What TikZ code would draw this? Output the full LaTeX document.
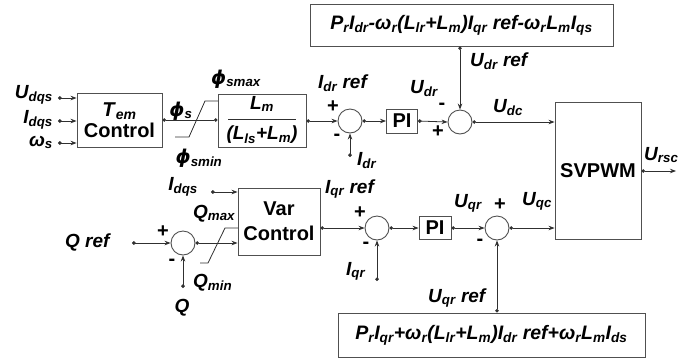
\documentclass[tikz,border=0pt]{standalone}
\usepackage{fontspec}
\setmainfont{Liberation Sans}
\newfontfamily\dvs{DejaVu Sans}
\usetikzlibrary{arrows.meta}
\definecolor{linec}{HTML}{303030}
\definecolor{boxc}{HTML}{505050}
\newcommand\sbs[1]{\textsubscript{#1}}
\newcommand\phig{{\dvs\bfseries\itshape ϕ}}
\newcommand\lblfont{\fontsize{19}{22}\selectfont\bfseries\itshape}
\newcommand\eqfont{\fontsize{19.5}{22}\selectfont\bfseries\itshape}
\newcommand\boxfont{\fontsize{20}{21}\selectfont\bfseries}
\newcommand\sigfont{\fontsize{20}{22}\selectfont\bfseries}
\tikzset{
  box/.style={draw=boxc, line width=0.9pt, fill=white, rectangle, inner sep=0pt},
  sumc/.style={draw=boxc, line width=0.9pt, circle, minimum size=24pt, inner sep=0pt},
  lbl/.style={font=\lblfont, inner sep=0pt},
  sig/.style={font=\sigfont, inner sep=0pt},
  con/.style={draw=linec, line width=0.8pt, {Circle[length=3.6pt]}-{Stealth[length=6pt,width=4.5pt]}},
  dd/.style={draw=linec, line width=0.8pt, {Circle[length=3.6pt]}-{Circle[length=3.6pt]}},
  satl/.style={draw=linec, line width=0.8pt}
}
\begin{document}
\begin{tikzpicture}[x=1pt,y=-1pt]
\useasboundingbox (0,0) rectangle (679,360);
% boxes
\node[box, minimum width=85pt, minimum height=54pt, align=center, font=\boxfont] (tem) at (119.5,120) {\textit{T}\sbs{\textit{em}}\\Control};
\node[box, minimum width=88pt, minimum height=53pt] (lm) at (262,120.5) {};
\node[lbl] (lmn) at (262,104) {L\sbs{m}};
\node[lbl] (lmd) at (262,135) {(L\sbs{ls}+L\sbs{m})};
\draw[linec, line width=0.8pt] (228,119) -- (296,119);
\node[sumc] (sd1) at (350,121) {};
\node[box, minimum width=31pt, minimum height=24pt, font=\boxfont] (pid) at (402,121) {PI};
\node[sumc] (sd2) at (460,122) {};
\node[box, minimum width=303pt, minimum height=42pt, font=\eqfont] (top) at (461.5,25) {P\sbs{r}I\sbs{dr}-ω\sbs{r}(L\sbs{lr}+L\sbs{m})I\sbs{qr} ref-ω\sbs{r}L\sbs{m}I\sbs{qs}};
\node[box, minimum width=86pt, minimum height=137pt, font=\boxfont] (sv) at (598,170.5) {SVPWM};
\node[box, minimum width=82pt, minimum height=67pt, align=center, font=\fontsize{20}{25}\selectfont\bfseries] (var) at (279,221.5) {Var\\Control};
\node[sumc] (sq) at (183,243) {};
\node[sumc] (sq1) at (377,228) {};
\node[box, minimum width=32pt, minimum height=23pt, font=\boxfont] (piq) at (435,227.5) {PI};
\node[sumc] (sq2) at (497,228) {};
\node[box, minimum width=307pt, minimum height=44pt, font=\eqfont] (bot) at (491.5,335) {P\sbs{r}I\sbs{qr}+ω\sbs{r}(L\sbs{lr}+L\sbs{m})I\sbs{dr} ref+ω\sbs{r}L\sbs{m}I\sbs{ds}};
% inputs of Tem control
\coordinate (udqs) at (58,98);
\coordinate (idqs) at (58,121);
\coordinate (ws) at (58,143);
\draw[con] (udqs) -- (udqs -| tem.west);
\draw[con] (idqs) -- (idqs -| tem.west);
\draw[con] (ws) -- (ws -| tem.west);
\node[lbl, anchor=base east] (ludqs) at (53,98) {U\sbs{dqs}};
\node[lbl, anchor=base east] (lidqs) at (53,123) {I\sbs{dqs}};
\node[lbl, anchor=base east] (lws) at (53,146) {ω\sbs{s}};
% d row
\draw[dd] (tem.east) -- (tem.east -| lm.west);
\draw[satl] (175,137) -- (189,137) -- (205,101) -- (218,101);
\node[lbl] (lphis) at (181,111) {\phig\sbs{s}};
\node[lbl, anchor=base west] (lphimax) at (211,84) {\phig\sbs{smax}};
\node[lbl] (lphimin) at (199,158) {\phig\sbs{smin}};
\draw[con] (lm.east |- sd1) -- (sd1.west);
\node[sig] (p1) at (333,107) {+};
\node[sig] (m1) at (337,137) {-};
\coordinate (idr) at (350,157);
\draw[con] (idr) -- (sd1.south);
\node[lbl, anchor=base west] (lidr) at (357,165) {I\sbs{dr}};
\node[lbl, anchor=base west] (lidrref) at (318,88) {I\sbs{dr} ref};
\draw[con] (sd1.east) -- (pid.west);
\draw[con] (pid.east) -- (sd2.west);
\node[lbl, anchor=base west] (ludr) at (410,93) {U\sbs{dr}};
\node[sig] (m2) at (442,106) {-};
\node[sig] (p2) at (438,132) {+};
\draw[con] (top.south -| sd2) -- (sd2.north);
\node[lbl, anchor=base west] (ludrref) at (470,66) {U\sbs{dr} ref};
\node[lbl, anchor=base west] (ludc) at (493,112) {U\sbs{dc}};
\draw[con] (sd2.east) -- (sd2.east -| sv.west);
\coordinate (out) at (676,171);
\draw[con] (sv.east |- out) -- (out);
\node[lbl, anchor=base west] (lursc) at (644,160) {U\sbs{rsc}};
% q row
\coordinate (idq2) at (211,192);
\draw[con] (idq2) -- (idq2 -| var.west);
\node[lbl, anchor=base east] (lidq2) at (198,190) {I\sbs{dqs}};
\node[lbl, anchor=base west] (lqmax) at (193,218) {Q\sbs{max}};
\node[lbl, anchor=base west] (lqmin) at (193,287) {Q\sbs{min}};
\coordinate (qr) at (132,243);
\draw[con] (qr) -- (sq.west);
\node[lbl, anchor=base west] (lqref) at (65,247) {Q ref};
\node[sig] (p3) at (163,232) {+};
\node[sig] (m3) at (172,262) {-};
\coordinate (qin) at (183,288);
\draw[con] (qin) -- (sq.south);
\node[lbl, anchor=base] (lq) at (182,312) {Q};
\draw[con] (sq.east) -- (sq.east -| var.west);
\draw[satl] (200,263) -- (208,263) -- (225,228) -- (238,228);
\draw[con] (var.east |- sq1) -- (sq1.west);
\node[lbl, anchor=base west] (liqrref) at (325,193) {I\sbs{qr} ref};
\node[sig] (p4) at (360,213) {+};
\node[sig] (m4) at (366,245) {-};
\coordinate (iqr) at (377,281);
\draw[con] (iqr) -- (sq1.south);
\node[lbl, anchor=base west] (liqr) at (346,275) {I\sbs{qr}};
\draw[con] (sq1.east) -- (sq1.east -| piq.west);
\draw[con] (piq.east |- sq2) -- (sq2.west);
\node[lbl, anchor=base west] (luqr) at (454,207) {U\sbs{qr}};
\node[sig] (p5) at (500,205) {+};
\node[sig] (m5) at (480,242) {-};
\node[lbl, anchor=base west] (luqc) at (522,205) {U\sbs{qc}};
\draw[con] (sq2.east) -- (sq2.east -| sv.west);
\draw[con] (bot.north -| sq2) -- (sq2.south);
\node[lbl, anchor=base west] (luqrref) at (428,302) {U\sbs{qr} ref};
\end{tikzpicture}
\end{document}
